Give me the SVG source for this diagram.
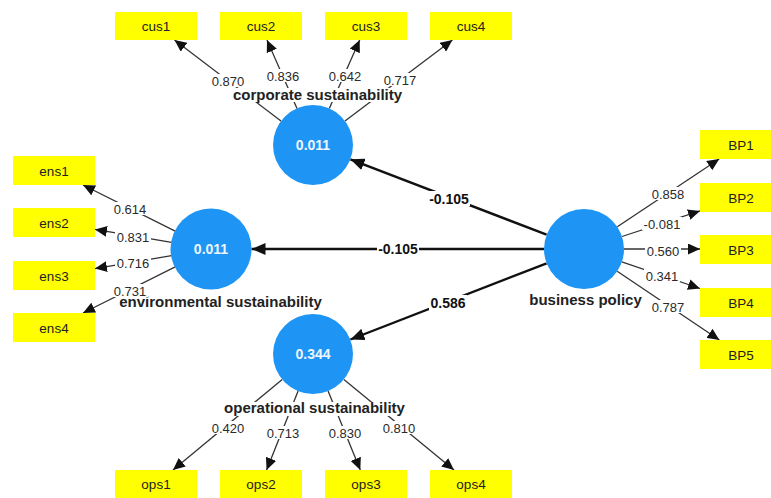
<svg xmlns="http://www.w3.org/2000/svg" width="771" height="498" viewBox="0 0 771 498">
<defs>
<style>
.box{fill:#ffff00}
.bt{font-family:"Liberation Sans",Arial,sans-serif;font-size:13.5px;fill:#222;text-anchor:middle}
.lv{fill:#1e95f4}
.lvt{font-family:"Liberation Sans",Arial,sans-serif;font-size:14px;font-weight:bold;fill:#eef6ff;text-anchor:middle}
.nm{font-family:"Liberation Sans",Arial,sans-serif;font-size:15px;font-weight:bold;fill:#222;text-anchor:middle}
.ld{font-family:"Liberation Sans",Arial,sans-serif;font-size:13px;fill:#2a2a2a;text-anchor:middle}
.pc{font-family:"Liberation Sans",Arial,sans-serif;font-size:14px;font-weight:bold;fill:#111;text-anchor:middle}
.bg{fill:#fff}
.il{stroke:#333;stroke-width:1.3;fill:none;marker-end:url(#a1)}
.sl{stroke:#111;stroke-width:2.4;fill:none;marker-end:url(#a2)}
</style>
<marker id="a1" markerUnits="userSpaceOnUse" markerWidth="13" markerHeight="11" refX="12" refY="5.5" orient="auto"><path d="M0,0 L12,5.5 L0,11 z" fill="#111"/></marker>
<marker id="a2" markerUnits="userSpaceOnUse" markerWidth="15" markerHeight="12" refX="14" refY="6" orient="auto"><path d="M0,0 L14,6 L0,12 z" fill="#111"/></marker>
</defs>
<rect width="771" height="498" fill="#fff"/>
<g id="connectors">
<line class="il" x1="281" y1="121" x2="174.5" y2="40"/>
<line class="il" x1="297" y1="108.4" x2="267" y2="40"/>
<line class="il" x1="329.3" y1="108.4" x2="359.7" y2="40"/>
<line class="il" x1="345" y1="121" x2="452.4" y2="40"/>
<line class="il" x1="175.2" y1="231.1" x2="83" y2="185"/>
<line class="il" x1="171.6" y1="242.3" x2="95" y2="229.4"/>
<line class="il" x1="171.6" y1="255.7" x2="95" y2="268.6"/>
<line class="il" x1="175.2" y1="266.9" x2="83" y2="313"/>
<line class="il" x1="617.3" y1="226.8" x2="719.2" y2="159"/>
<line class="il" x1="622" y1="236.5" x2="700" y2="210.9"/>
<line class="il" x1="624" y1="249" x2="700" y2="249"/>
<line class="il" x1="621.8" y1="261.9" x2="700" y2="288.5"/>
<line class="il" x1="617.2" y1="271.3" x2="719.4" y2="340"/>
<line class="il" x1="282.2" y1="379.5" x2="173" y2="470"/>
<line class="il" x1="298.1" y1="391.1" x2="266.6" y2="470"/>
<line class="il" x1="328.1" y1="391.1" x2="360.3" y2="470"/>
<line class="il" x1="343.9" y1="379.4" x2="454" y2="470"/>
<line class="sl" x1="546.6" y1="234.7" x2="350.4" y2="159.3"/>
<line class="sl" x1="544" y1="249" x2="251.5" y2="249"/>
<line class="sl" x1="546.6" y1="263.3" x2="350.4" y2="339.5"/>
</g>
<g id="cus1"><rect class="box" x="115" y="12" width="82" height="28"/><text class="bt" x="156" y="31">cus1</text></g>
<g id="cus2"><rect class="box" x="220" y="12" width="82" height="28"/><text class="bt" x="261" y="31">cus2</text></g>
<g id="cus3"><rect class="box" x="325" y="12" width="82" height="28"/><text class="bt" x="366" y="31">cus3</text></g>
<g id="cus4"><rect class="box" x="430" y="12" width="82" height="28"/><text class="bt" x="471" y="31">cus4</text></g>
<g id="ens1"><rect class="box" x="13" y="156" width="82" height="29"/><text class="bt" x="54" y="175.5">ens1</text></g>
<g id="ens2"><rect class="box" x="13" y="208" width="82" height="29"/><text class="bt" x="54" y="227.5">ens2</text></g>
<g id="ens3"><rect class="box" x="13" y="261" width="82" height="29"/><text class="bt" x="54" y="280.5">ens3</text></g>
<g id="ens4"><rect class="box" x="13" y="313" width="82" height="29"/><text class="bt" x="54" y="332.5">ens4</text></g>
<g id="BP1"><rect class="box" x="700" y="130" width="82" height="29"/><text class="bt" x="741" y="149.5">BP1</text></g>
<g id="BP2"><rect class="box" x="700" y="183" width="82" height="29"/><text class="bt" x="741" y="202.5">BP2</text></g>
<g id="BP3"><rect class="box" x="700" y="235" width="82" height="29"/><text class="bt" x="741" y="254.5">BP3</text></g>
<g id="BP4"><rect class="box" x="700" y="288" width="82" height="29"/><text class="bt" x="741" y="307.5">BP4</text></g>
<g id="BP5"><rect class="box" x="700" y="340" width="82" height="29"/><text class="bt" x="741" y="359.5">BP5</text></g>
<g id="ops1"><rect class="box" x="115" y="470" width="82" height="28"/><text class="bt" x="156" y="489">ops1</text></g>
<g id="ops2"><rect class="box" x="220" y="470" width="82" height="28"/><text class="bt" x="261" y="489">ops2</text></g>
<g id="ops3"><rect class="box" x="325" y="470" width="82" height="28"/><text class="bt" x="366" y="489">ops3</text></g>
<g id="ops4"><rect class="box" x="430" y="470" width="82" height="28"/><text class="bt" x="471" y="489">ops4</text></g>
<g id="corporate-sustainability"><circle class="lv" cx="313" cy="145" r="40"/><text class="lvt" x="313" y="150">0.011</text><rect class="bg" x="233" y="88" width="169" height="14"/><text class="nm" x="317.5" y="99.5">corporate sustainability</text></g>
<g id="environmental-sustainability"><circle class="lv" cx="211" cy="249" r="40.5"/><text class="lvt" x="211" y="254">0.011</text><rect class="bg" x="118" y="295" width="205" height="14"/><text class="nm" x="220.5" y="306.5">environmental sustainability</text></g>
<g id="business-policy"><circle class="lv" cx="584" cy="249" r="40"/><rect class="bg" x="530" y="294" width="111" height="14"/><text class="nm" x="585.5" y="305">business policy</text></g>
<g id="operational-sustainability"><circle class="lv" cx="313" cy="354" r="40"/><text class="lvt" x="313" y="359">0.344</text><rect class="bg" x="224" y="402" width="181" height="14"/><text class="nm" x="314.5" y="413">operational sustainability</text></g>
<g id="labels">
<rect class="bg" x="210" y="74" width="36" height="13"/><text class="ld" x="228" y="85.5">0.870</text>
<rect class="bg" x="265" y="69" width="36" height="13"/><text class="ld" x="283" y="80.5">0.836</text>
<rect class="bg" x="327" y="69" width="36" height="13"/><text class="ld" x="345" y="80.5">0.642</text>
<rect class="bg" x="382" y="73" width="36" height="13"/><text class="ld" x="400" y="84.5">0.717</text>
<rect class="bg" x="112" y="202" width="36" height="13"/><text class="ld" x="130" y="213.5">0.614</text>
<rect class="bg" x="115" y="230" width="36" height="13"/><text class="ld" x="133" y="241.5">0.831</text>
<rect class="bg" x="115" y="256" width="36" height="13"/><text class="ld" x="133" y="267.5">0.716</text>
<rect class="bg" x="112" y="284" width="36" height="13"/><text class="ld" x="130" y="295.5">0.731</text>
<rect class="bg" x="650" y="187" width="36" height="13"/><text class="ld" x="668" y="198.5">0.858</text>
<rect class="bg" x="642" y="217" width="40" height="13"/><text class="ld" x="662" y="228.5">-0.081</text>
<rect class="bg" x="645" y="244" width="36" height="13"/><text class="ld" x="663" y="255.5">0.560</text>
<rect class="bg" x="644" y="269" width="36" height="13"/><text class="ld" x="662" y="280.5">0.341</text>
<rect class="bg" x="650" y="300" width="36" height="13"/><text class="ld" x="668" y="311.5">0.787</text>
<rect class="bg" x="210" y="421" width="36" height="13"/><text class="ld" x="228" y="432.5">0.420</text>
<rect class="bg" x="265" y="426" width="36" height="13"/><text class="ld" x="283" y="437.5">0.713</text>
<rect class="bg" x="327" y="426" width="36" height="13"/><text class="ld" x="345" y="437.5">0.830</text>
<rect class="bg" x="381" y="421" width="36" height="13"/><text class="ld" x="399" y="432.5">0.810</text>
<rect class="bg" x="428" y="191" width="42" height="15"/><text class="pc" x="449" y="204">-0.105</text>
<rect class="bg" x="377" y="241" width="42" height="15"/><text class="pc" x="398" y="254">-0.105</text>
<rect class="bg" x="429" y="295" width="38" height="15"/><text class="pc" x="448" y="308">0.586</text>
</g>
</svg>
